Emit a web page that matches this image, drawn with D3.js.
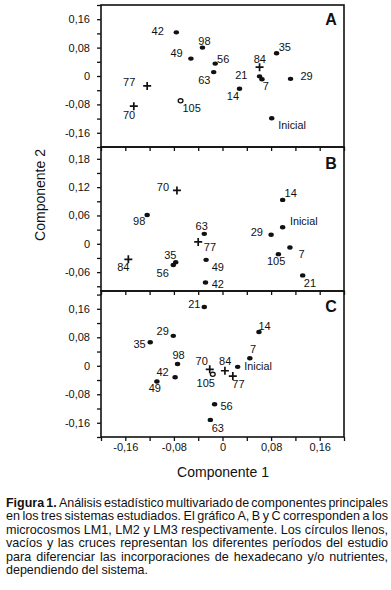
<!DOCTYPE html>
<html><head><meta charset="utf-8">
<script src="https://cdn.jsdelivr.net/npm/d3@7"></script>
<style>body{margin:0;background:#fff} svg{display:block} text{font-family:"Liberation Sans",Arial,sans-serif;fill:#111}</style>
</head><body><svg id="c" width="391" height="590"></svg>
<script>
// ---------- data ----------
const samplesA = ["42","98","49","56","63","77","70","105","14","21","7","84","35","29","Inicial"];
const comp1A   = [-0.076,-0.033,-0.052,-0.012,-0.0145,-0.124,-0.146,-0.069,0.028,0.061,0.065,0.061,0.089,0.112,0.081];
const comp2A   = [0.123,0.080,0.049,0.035,0.011,-0.028,-0.085,-0.070,-0.036,-0.001,-0.009,0.025,0.064,-0.008,-0.119];
const markerA  = ["f","f","f","f","f","+","+","o","f","f","f","+","f","f","f"];

const samplesB = ["70","98","63","77","35","56","84","49","42","14","Inicial","29","7","105","21"];
const comp1B   = [-0.075,-0.124,-0.030,-0.040,-0.077,-0.081,-0.155,-0.027,-0.028,0.099,0.099,0.080,0.111,0.092,0.132];
const comp2B   = [0.113,0.061,0.021,0.004,-0.039,-0.045,-0.033,-0.034,-0.082,0.093,0.035,0.019,-0.008,-0.022,-0.067];
const markerB  = ["+","f","f","+","f","f","+","f","f","f","f","f","f","f","f"];

const samplesC = ["21","29","35","98","42","49","70","105","84","77","Inicial","7","14","56","63"];
const comp1C   = [-0.030,-0.081,-0.119,-0.074,-0.078,-0.108,-0.021,-0.016,0.004,0.017,0.025,0.045,0.060,-0.013,-0.020];
const comp2C   = [0.165,0.084,0.066,0.005,-0.032,-0.044,-0.010,-0.024,-0.014,-0.029,-0.003,0.021,0.095,-0.108,-0.152];
const markerC  = ["f","f","f","f","f","f","+","o","+","+","f","f","f","f","f"];

const xTickLabels = [-0.16,-0.08,0,0.08,0.16];
const yTickLabelsA = [-0.16,-0.08,0,0.08,0.16];
const yTickLabelsB = [-0.06,0,0.06,0.12,0.18];
const yTickLabelsC = [-0.16,-0.08,0,0.08,0.16];
const panelLetters = ["A","B","C"];
const xTitle = "Componente 1";
const yTitle = "Componente 2";
const captionLines = [
  "Figura 1. Análisis estadístico multivariado de componentes principales",
  "en los tres sistemas estudiados. El gráfico A, B y C corresponden a los",
  "microcosmos LM1, LM2 y LM3 respectivamente. Los círculos llenos,",
  "vacíos y las cruces representan los diferentes períodos del estudio",
  "para diferenciar las incorporaciones de hexadecano y/o nutrientes,",
  "dependiendo del sistema."
];

// ---------- label placement (px offsets from point: dx, dy of label centre) ----------
const labelOffA = [[-18.6,-1.6],[2,-6.7],[-14.3,-5.4],[8,-4.4],[-9.4,8],[-18,-4],[-4.7,9],[11,7.3],[-6.6,7],[-18.3,-1.3],[3.7,6.4],[0.3,-7.7],[8.3,-6],[16,-2.7],[6.6,7]];
const labelOffB = [[-14,-3],[-8,6],[-2.6,-8],[11.7,5.3],[-5.4,-6.7],[-10.6,8.3],[-5,7.4],[11.7,7.3],[12.4,1.3],[8,-6.4],[7.3,-6],[-14.3,-2.7],[11.6,6.3],[-2.3,6.7],[7.3,7.4]];
const labelOffC = [[-10,-2.7],[-10.6,-5],[-10.7,1.4],[1,-9],[-12.6,-4.7],[-2,7],[-8,-8.3],[-7,9],[0.3,-9.4],[5.6,8.3],[6.6,-0.4],[3.3,-9],[5.6,-5.7],[12,2],[7.4,8.6]];

// ---------- layout ----------
const svg = d3.select("#c");
svg.append("rect").attr("width",391).attr("height",590).attr("fill","#fff");
const left = 101, right = 344;
const x = d3.scaleLinear().domain([-0.2,0.2]).range([left,right]);

const panels = [
  {top:5,   bottom:147, dom:[-0.2,0.2],   step:0.04, lab:yTickLabelsA, s:samplesA, px:comp1A, py:comp2A, m:markerA, off:labelOffA, letterY:25},
  {top:147, bottom:291, dom:[-0.1,0.205], step:0.03, lab:yTickLabelsB, s:samplesB, px:comp1B, py:comp2B, m:markerB, off:labelOffB, letterY:169},
  {top:291, bottom:437, dom:[-0.2,0.21],  step:0.04, lab:yTickLabelsC, s:samplesC, px:comp1C, py:comp2C, m:markerC, off:labelOffC, letterY:312}
];

const fmt = v => Math.abs(v) < 1e-9 ? "0" : (v < 0 ? "-" : "") + Math.abs(v).toFixed(2).replace(".", ",");
const isIn = (v, arr) => arr.some(t => Math.abs(t - v) < 1e-9);

panels.forEach((p, i) => {
  const y = d3.scaleLinear().domain(p.dom).range([p.bottom, p.top]);
  const g = svg.append("g");
  const startY = Math.ceil((p.dom[0] - 1e-9) / p.step) * p.step;
  const yt = d3.range(startY, p.dom[1] + 1e-9, p.step).filter(v => y(v) <= p.bottom + 0.5);
  const ya = g.append("g").attr("transform", `translate(${left},0)`)
    .call(d3.axisLeft(y).tickValues(yt).tickSize(4).tickPadding(7)
      .tickFormat(v => isIn(v, p.lab) ? fmt(v) : ""));
  ya.select(".domain").remove();
  ya.selectAll("line").attr("stroke","#111").attr("stroke-width",1.3);
  ya.selectAll("text").attr("font-size",11).attr("font-family","Liberation Sans, Arial, sans-serif").attr("fill","#111");
  const xt = d3.range(-0.2, 0.2 + 1e-9, 0.04);
  const xa = g.append("g").attr("transform", `translate(0,${p.bottom})`)
    .call(d3.axisBottom(x).tickValues(xt).tickSize(4).tickPadding(2)
      .tickFormat(v => (i === 2 && isIn(v, xTickLabels)) ? fmt(v) : ""));
  xa.select(".domain").remove();
  xa.selectAll("line").attr("stroke","#111").attr("stroke-width",1.3);
  xa.selectAll("text").attr("font-size",11).attr("font-family","Liberation Sans, Arial, sans-serif").attr("fill","#111");
  g.append("rect").attr("x", left).attr("y", p.top).attr("width", right - left).attr("height", p.bottom - p.top)
    .attr("fill","none").attr("stroke","#111").attr("stroke-width",1.6);
  g.append("text").attr("x", 331).attr("y", p.letterY).attr("text-anchor","middle")
    .attr("font-size",16).attr("font-weight","bold").text(panelLetters[i]);
  const data = p.s.map((s, k) => ({s, vx:p.px[k], vy:p.py[k], m:p.m[k], off:p.off[k]}));
  data.forEach(d => {
    const cx = x(d.vx), cy = y(d.vy);
    if (d.m === "+") {
      g.append("path").attr("d", `M${cx-4},${cy}H${cx+4}M${cx},${cy-4}V${cy+4}`)
        .attr("stroke","#111").attr("stroke-width",1.7).attr("fill","none");
    } else if (d.m === "o") {
      g.append("ellipse").attr("cx",cx).attr("cy",cy).attr("rx",2.4).attr("ry",2.1)
        .attr("fill","#fff").attr("stroke","#111").attr("stroke-width",1.3);
    } else {
      g.append("ellipse").attr("cx",cx).attr("cy",cy).attr("rx",2.7).attr("ry",2.2).attr("fill","#111");
    }
    const isStart = d.s === "Inicial";
    g.append("text").attr("x", cx + d.off[0]).attr("y", cy + d.off[1]).attr("dy","0.36em")
      .attr("text-anchor", isStart ? "start" : "middle")
      .attr("font-size", isStart ? 10.8 : 11).text(d.s);
  });
});

svg.append("text").attr("x", 223).attr("y", 477).attr("text-anchor","middle").attr("font-size",14).text(xTitle);
svg.append("text").attr("transform","translate(45,195) rotate(-90)").attr("text-anchor","middle").attr("font-size",14).text(yTitle);

// caption (justified)
const capX0 = 6, capW = 382, capY0 = 507, capLH = 13.4, lastW = 142;
captionLines.forEach((line, i) => {
  const words = line.split(" ");
  const last = i === captionLines.length - 1;
  const nodes = words.map((w, j) => svg.append("text").attr("y", capY0 + i * capLH)
    .attr("font-size", 12.6).attr("font-weight", (i === 0 && j < 2) ? "bold" : "normal").text(w));
  const widths = nodes.map(n => n.node().getComputedTextLength());
  const sum = d3.sum(widths);
  const W = last ? lastW : capW;
  const minGap = last ? 3.2 : 2.2;
  let gap = (W - sum) / (words.length - 1);
  let s = 1;
  if (gap < minGap || last) { gap = minGap; s = (W - gap * (words.length - 1)) / sum; }
  let cx = capX0;
  nodes.forEach((n, j) => {
    n.attr("x", cx);
    if (s !== 1) n.attr("textLength", widths[j] * s).attr("lengthAdjust", "spacingAndGlyphs");
    cx += widths[j] * s + gap;
  });
});
</script>
</body></html>
